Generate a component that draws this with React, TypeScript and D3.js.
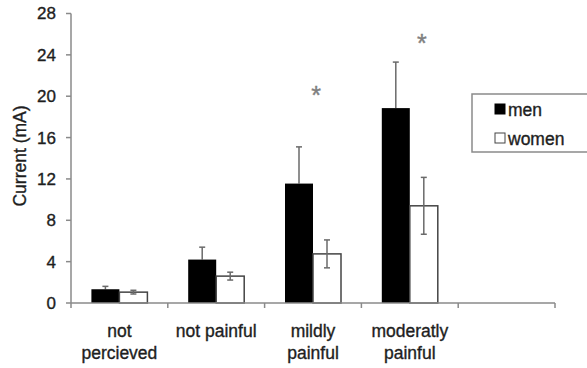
import React from "react";
import * as d3 from "d3";

const categories = [["not", "percieved"], ["not painful"], ["mildly", "painful"], ["moderatly", "painful"], [""]];
const menValues = [1.33, 4.2, 11.55, 18.85];
const menErrors = [0.28, 1.2, 3.55, 4.45];
const womenValues = [1.05, 2.6, 4.75, 9.4];
const womenErrors = [0.18, 0.38, 1.35, 2.75];
const yTicks = [0, 4, 8, 12, 16, 20, 24, 28];
const stars = [
  { cat: 2, value: 20.5 },
  { cat: 3, value: 25.5 },
];
const seriesNames = ["men", "women"];

const W = 587;
const H = 368;
const FONT = "'Liberation Sans', Arial, sans-serif";

export default function App() {
  const x = d3.scaleBand<number>().domain(d3.range(categories.length)).range([71, 555]).padding(0);
  const y = d3.scaleLinear().domain([0, 28]).range([303, 13.5]);
  const bw = x.bandwidth();
  const barW = 28;
  const groupStart = (i: number) => (x(i) as number) + (bw - 2 * barW) / 2;
  const axisColor = "#8a8a8a";
  const errColor = "#6a6a6a";
  const textColor = "#1e1e1e";
  const textStroke = { stroke: textColor, strokeWidth: 0.35 };
  const starOffsets = [3, 12];

  return (
    <svg width={W} height={H} style={{ position: "absolute", left: 0, top: 0, background: "#fff" }} fontFamily={FONT}>
      <rect x={0} y={0} width={W} height={H} fill="#fff" />
      {/* bars */}
      {menValues.map((v, i) => {
        const x0 = groupStart(i);
        const cx = x0 + barW / 2;
        return (
          <g key={"m" + i}>
            <line x1={cx} x2={cx} y1={y(v)} y2={y(v + menErrors[i])} stroke={errColor} strokeWidth={1.5} />
            <line x1={cx - 3} x2={cx + 3} y1={y(v + menErrors[i])} y2={y(v + menErrors[i])} stroke={errColor} strokeWidth={1.5} />
            <rect x={x0} y={y(v)} width={barW} height={y(0) - y(v)} fill="#000" />
          </g>
        );
      })}
      {womenValues.map((v, i) => {
        const x0 = groupStart(i) + barW;
        const cx = x0 + barW / 2;
        const top = y(v + womenErrors[i]);
        const bot = y(v - womenErrors[i]);
        return (
          <g key={"w" + i}>
            <rect x={x0} y={y(v)} width={barW} height={y(0) - y(v)} fill="#fff" stroke="#444" strokeWidth={1.5} />
            <line x1={cx} x2={cx} y1={top} y2={bot} stroke={errColor} strokeWidth={1.5} />
            <line x1={cx - 3} x2={cx + 3} y1={top} y2={top} stroke={errColor} strokeWidth={1.5} />
            <line x1={cx - 3} x2={cx + 3} y1={bot} y2={bot} stroke={errColor} strokeWidth={1.5} />
          </g>
        );
      })}
      {/* stars */}
      {stars.map((s, i) => (
        <text key={"s" + i} x={(x(s.cat) as number) + bw / 2 + starOffsets[i]} y={y(s.value) + 13} textAnchor="middle" fontSize={25} fill="#808080" stroke="#808080" strokeWidth={0.4}>
          *
        </text>
      ))}
      {/* y axis */}
      <line x1={71} x2={71} y1={y(28)} y2={y(0)} stroke={axisColor} strokeWidth={1.5} />
      {yTicks.map((t) => (
        <g key={"yt" + t}>
          <line x1={66} x2={71} y1={y(t)} y2={y(t)} stroke={axisColor} strokeWidth={1.5} />
          <text x={56} y={y(t)} dy="0.35em" textAnchor="end" fontSize={17} fill={textColor} {...textStroke}>
            {t}
          </text>
        </g>
      ))}
      {/* x axis */}
      <line x1={71} x2={555} y1={y(0)} y2={y(0)} stroke={axisColor} strokeWidth={1.5} />
      {d3.range(categories.length + 1).map((i) => {
        const px = i < categories.length ? (x(i) as number) : 555;
        return <line key={"xt" + i} x1={px} x2={px} y1={y(0)} y2={y(0) + 5} stroke={axisColor} strokeWidth={1.5} />;
      })}
      {categories.map((lines, i) => (
        <text key={"xl" + i} x={(x(i) as number) + bw / 2} y={337} textAnchor="middle" fontSize={17.5} fill={textColor} {...textStroke}>
          {lines.map((ln, j) => (
            <tspan key={j} x={(x(i) as number) + bw / 2} dy={j === 0 ? 0 : 22}>
              {ln}
            </tspan>
          ))}
        </text>
      ))}
      {/* y label */}
      <text transform="translate(26,156) rotate(-90)" textAnchor="middle" fontSize={17.5} fill={textColor} {...textStroke}>
        Current (mA)
      </text>
      {/* legend */}
      <rect x={472} y={94} width={130} height={58} fill="#fff" stroke={axisColor} strokeWidth={1.5} />
      {seriesNames.map((n, i) => (
        <g key={"lg" + i}>
          <rect x={495} y={104 + i * 29} width={10} height={10} fill={i === 0 ? "#000" : "#fff"} stroke={i === 0 ? "#000" : "#444"} strokeWidth={1} />
          <text x={508} y={115.5 + i * 29} fontSize={17.5} fill={textColor} {...textStroke}>
            {n}
          </text>
        </g>
      ))}
    </svg>
  );
}
